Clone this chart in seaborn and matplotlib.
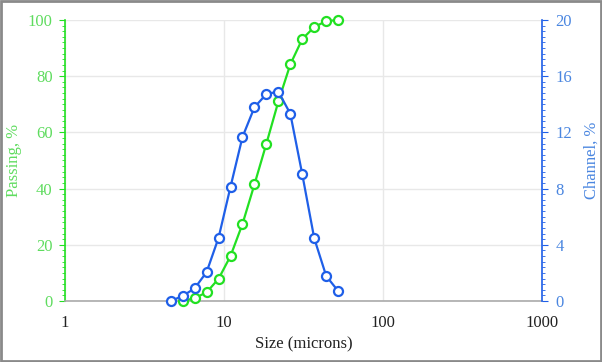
#!/usr/bin/env python
"""Particle size distribution: cumulative passing and channel percentages."""

import matplotlib

matplotlib.use("Agg")

import matplotlib.pyplot as plt
import pandas as pd
import seaborn as sns
from matplotlib.ticker import FixedLocator, MultipleLocator, NullLocator

# sieve sizes (microns), fourth-root-of-two series
channel_size = [4.63, 5.5, 6.54, 7.78, 9.25, 11.0, 13.08, 15.56, 18.5, 22.0,
                26.16, 31.1, 37.0, 44.0, 52.3]
channel_pct = [0.0, 0.36, 0.9, 2.06, 4.5, 8.13, 11.67, 13.79, 14.73, 14.9,
               13.33, 9.02, 4.46, 1.78, 0.71]

passing_size = [5.5, 6.54, 7.78, 9.25, 11.0, 13.08, 15.56, 18.5, 22.0,
                26.16, 31.1, 37.0, 44.0, 52.3]
passing_pct = [0.0, 1.0, 3.1, 7.9, 16.0, 27.4, 41.5, 56.0, 71.0, 84.2,
               93.2, 97.5, 99.6, 100.0]

x_ticks = [1, 10, 100, 1000]
x_tick_labels = ["1", "10", "100", "1000"]

GREEN = "#22e022"
GREEN_TXT = "#5fdc5f"
BLUE = "#1f5fe8"
BLUE_TXT = "#4a86e0"

sns.set_style("white")
plt.rcParams["font.family"] = ["Liberation Serif", "DejaVu Serif"]

passing = pd.DataFrame({"size": passing_size, "pct": passing_pct})
channel = pd.DataFrame({"size": channel_size, "pct": channel_pct})

fig = plt.figure(figsize=(6.02, 3.62), dpi=100)
ax = fig.add_axes([0.108, 0.1685, 0.792, 0.7763])

marker_kw = dict(marker="o", markersize=6.5, markerfacecolor="white",
                 markeredgewidth=1.6, linewidth=1.6, clip_on=False)

sns.lineplot(data=passing, x="size", y="pct", ax=ax, color=GREEN,
             markeredgecolor=GREEN, zorder=3, **marker_kw)

ax.set_xscale("log")
ax.set_xlim(1, 1000)
ax.set_ylim(0, 100)
ax.xaxis.set_major_locator(FixedLocator(x_ticks))
ax.set_xticklabels(x_tick_labels)
ax.xaxis.set_minor_locator(NullLocator())
ax.yaxis.set_major_locator(MultipleLocator(20))
ax.yaxis.set_minor_locator(MultipleLocator(2))
ax.grid(True, which="major", color="#e8e8e8", linewidth=1.0)
ax.set_axisbelow(True)

ax.set_xlabel("Size (microns)", fontsize=12, color="#222222", labelpad=4)
ax.set_ylabel("Passing, %", fontsize=12, color=GREEN_TXT, labelpad=4)

ax.tick_params(axis="x", colors="#222222", labelsize=12, length=3,
               color="#aaaaaa", pad=7)
ax.tick_params(axis="y", which="major", colors=GREEN_TXT, labelsize=12,
               length=4, color=GREEN, pad=5)
ax.tick_params(axis="y", which="minor", length=2.5, color=GREEN)

for side in ["top", "right"]:
    ax.spines[side].set_visible(False)
ax.spines["left"].set_color(GREEN)
ax.spines["left"].set_linewidth(1.2)
ax.spines["bottom"].set_color("#aaaaaa")
ax.spines["bottom"].set_linewidth(1.2)

ax2 = ax.twinx()
sns.lineplot(data=channel, x="size", y="pct", ax=ax2, color=BLUE,
             markeredgecolor=BLUE, zorder=3, **marker_kw)
ax2.set_ylim(0, 20)
ax2.yaxis.set_major_locator(MultipleLocator(4))
ax2.yaxis.set_minor_locator(MultipleLocator(0.4))
ax2.set_xlabel("")
ax2.set_ylabel("Channel, %", fontsize=12, color=BLUE_TXT, labelpad=8)
ax2.tick_params(axis="y", which="major", colors=BLUE_TXT, labelsize=12,
                length=4, color=BLUE, pad=6)
ax2.tick_params(axis="y", which="minor", length=2.5, color=BLUE)
for side in ["top", "left", "bottom"]:
    ax2.spines[side].set_visible(False)
ax2.spines["right"].set_color(BLUE)
ax2.spines["right"].set_linewidth(1.2)

# thin grey frame around the whole picture
fig.patches.append(plt.Rectangle((0.002, 0.003), 0.996, 0.994,
                                 transform=fig.transFigure, fill=False,
                                 edgecolor="#8a8a8a", linewidth=2))

fig.savefig("out.png", dpi=100)
